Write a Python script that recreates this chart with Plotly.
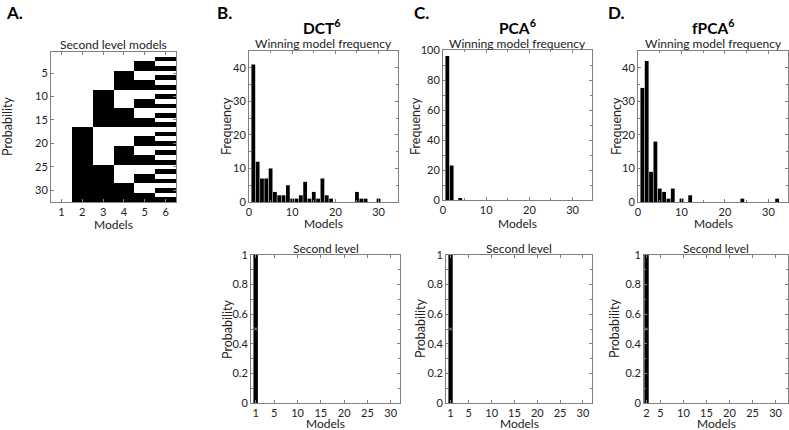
import plotly.graph_objects as go

W, H = 789, 430

# panel A: second level model structure (rows = model index 1..32, cols = factors 1..6)
model_rows = [
    "000000", "000001", "000010", "000011", "000100", "000101", "000110", "000111",
    "001000", "001001", "001010", "001011", "001100", "001101", "001110", "001111",
    "010000", "010001", "010010", "010011", "010100", "010101", "010110", "010111",
    "011000", "011001", "011010", "011011", "011100", "011101", "011110", "011111",
]
factors = [1, 2, 3, 4, 5, 6]
model_idx = list(range(1, 33))

# winning model frequency
dct_models = [1, 2, 3, 4, 5, 6, 7, 8, 9, 10, 11, 12, 13, 14, 15, 16, 17, 18, 19, 25, 26, 27, 30]
dct_freq = [41, 12, 7, 7, 10, 3, 2, 2, 5, 1, 1, 2, 6, 1, 3, 1, 7, 2, 1, 3, 1, 1, 1]
pca_models = [1, 2, 4]
pca_freq = [96, 23, 1]
fpca_models = [1, 2, 3, 4, 5, 6, 7, 8, 10, 12, 24, 32]
fpca_freq = [34, 42, 9, 18, 4, 3, 1, 4, 1, 2, 1, 1]

# second level posterior
dct_best, pca_best, fpca_best = 1, 1, 2
second_prob = 1.0

FONT = "Lato"
AX = "#7f7f7f"


def px_x(a, b):
    return [a / W, b / W]


def px_y(top, bottom):
    return [1 - bottom / H, 1 - top / H]


fig = go.Figure()

z = [[int(c) for c in r] for r in model_rows]
fig.add_trace(go.Heatmap(
    z=z, x=factors, y=model_idx,
    colorscale=[[0, "white"], [1, "black"]], zmin=0, zmax=1,
    showscale=False, xaxis="x", yaxis="y", hoverinfo="skip",
))

hist_sets = [(dct_models, dct_freq), (pca_models, pca_freq), (fpca_models, fpca_freq)]
for i, (m, f) in enumerate(hist_sets):
    n = i + 2
    fig.add_trace(go.Bar(x=m, y=f, marker=dict(color="black", line=dict(width=0)),
                         width=0.88, xaxis=f"x{n}", yaxis=f"y{n}", showlegend=False))

for i, best in enumerate([dct_best, pca_best, fpca_best]):
    n = i + 5
    fig.add_trace(go.Bar(x=[best], y=[second_prob], marker=dict(color="black", line=dict(width=0)),
                         width=0.95, xaxis=f"x{n}", yaxis=f"y{n}", showlegend=False))
    fig.add_trace(go.Scatter(x=[best], y=[second_prob / 2], mode="markers",
                             marker=dict(symbol="x-thin", size=3, line=dict(color="#9a9a9a", width=1)),
                             xaxis=f"x{n}", yaxis=f"y{n}", showlegend=False, hoverinfo="skip"))

common = dict(showline=True, linecolor=AX, linewidth=1, mirror="ticks", ticks="inside",
              ticklen=3, tickcolor=AX, showgrid=False, zeroline=False, automargin=False,
              tickfont=dict(family=FONT, size=11, color="#222"))
mnr = lambda d: dict(ticks="inside", dtick=d, ticklen=2, tickcolor=AX)

top_y = (51, 202)
bot_y = (255, 403)
axes = {
    "xaxis": dict(domain=px_x(51, 176), anchor="y", range=[0.5, 6.5], tickvals=factors, **common),
    "yaxis": dict(domain=px_y(52, 202), anchor="x", range=[32.5, 0.5], tickvals=[5, 10, 15, 20, 25, 30], **common),
    "xaxis2": dict(domain=px_x(249, 398), anchor="y2", range=[0, 34.5], tickvals=[0, 10, 20, 30],
                   minor=mnr(5), **common),
    "yaxis2": dict(domain=px_y(*top_y), anchor="x2", range=[0, 45], tickvals=[0, 10, 20, 30, 40],
                   minor=mnr(5), **common),
    "xaxis3": dict(domain=px_x(443, 592), anchor="y3", range=[0, 34.5], tickvals=[0, 10, 20, 30],
                   minor=mnr(5), **common),
    "yaxis3": dict(domain=px_y(50, 200), anchor="x3", range=[0, 100], tickvals=[0, 20, 40, 60, 80, 100],
                   minor=mnr(10), **common),
    "xaxis4": dict(domain=px_x(638, 788), anchor="y4", range=[0, 34.5], tickvals=[0, 10, 20, 30],
                   minor=mnr(5), **common),
    "yaxis4": dict(domain=px_y(*top_y), anchor="x4", range=[0, 45], tickvals=[0, 10, 20, 30, 40],
                   minor=mnr(5), **common),
}
bot_x = [(251, 400, [0, 32], [1, 5, 10, 15, 20, 25, 30]),
         (446, 592, [0, 32], [1, 5, 10, 15, 20, 25, 30]),
         (644, 788, [1.45, 32.7], [2, 5, 10, 15, 20, 25, 30])]
for i, (a, b, rng, tv) in enumerate(bot_x):
    n = i + 5
    axes[f"xaxis{n}"] = dict(domain=px_x(a, b), anchor=f"y{n}", range=rng, tickvals=tv, **common)
    axes[f"yaxis{n}"] = dict(domain=px_y(*bot_y), anchor=f"x{n}", range=[0, 1],
                             tickvals=[0, 0.2, 0.4, 0.6, 0.8, 1], ticktext=["0", "0.2", "0.4", "0.6", "0.8", "1"],
                             minor=mnr(0.1), **common)

fig.update_layout(width=W, height=H, margin=dict(l=0, r=0, t=0, b=0),
                  paper_bgcolor="white", plot_bgcolor="white", bargap=0.1, **axes)


def txt(x, y, s, size, bold=False, color="#222", angle=0):
    fig.add_annotation(x=x / W, y=1 - y / H, xref="paper", yref="paper",
                       text=f"<b>{s}</b>" if bold else s, textangle=angle,
                       showarrow=False, xanchor="center", yanchor="middle",
                       font=dict(family=FONT, size=size, color=color))


for lab, x in [("A.", 14), ("B.", 224), ("C.", 421), ("D.", 616)]:
    txt(x, 13, lab, 17, bold=True, color="black")
for lab, x in [("DCT<sup>6</sup>", 322), ("PCA<sup>6</sup>", 517), ("fPCA<sup>6</sup>", 713)]:
    txt(x, 26, lab, 15.5, bold=True, color="black")
txt(113, 44, "Second level models", 12)
for a, b in [(249, 398), (443, 592), (638, 788)]:
    txt((a + b) / 2, 43.5, "Winning model frequency", 12)
for a, b, _, _ in bot_x:
    txt((a + b) / 2, 248, "Second level", 12)

# axis titles
txt(113, 224, "Models", 12)
txt(8, 127, "Probability", 12.5, angle=-90)
for (a, b), yx in zip([(249, 398), (443, 592), (638, 788)], [226, 415, 616]):
    txt((a + b) / 2, 223, "Models", 12)
    txt(yx, 126, "Frequency", 12.5, angle=-90)
for (a, b, _, _), yx in zip(bot_x, [227, 420, 614]):
    txt((a + b) / 2, 423.5, "Models", 12)
    txt(yx, 329, "Probability", 12.5, angle=-90)

# drop the default page margin so the figure sits at the top-left corner
fig.write_html("out.html", config={"displayModeBar": False},
               post_script="document.body.style.margin = '0';")
